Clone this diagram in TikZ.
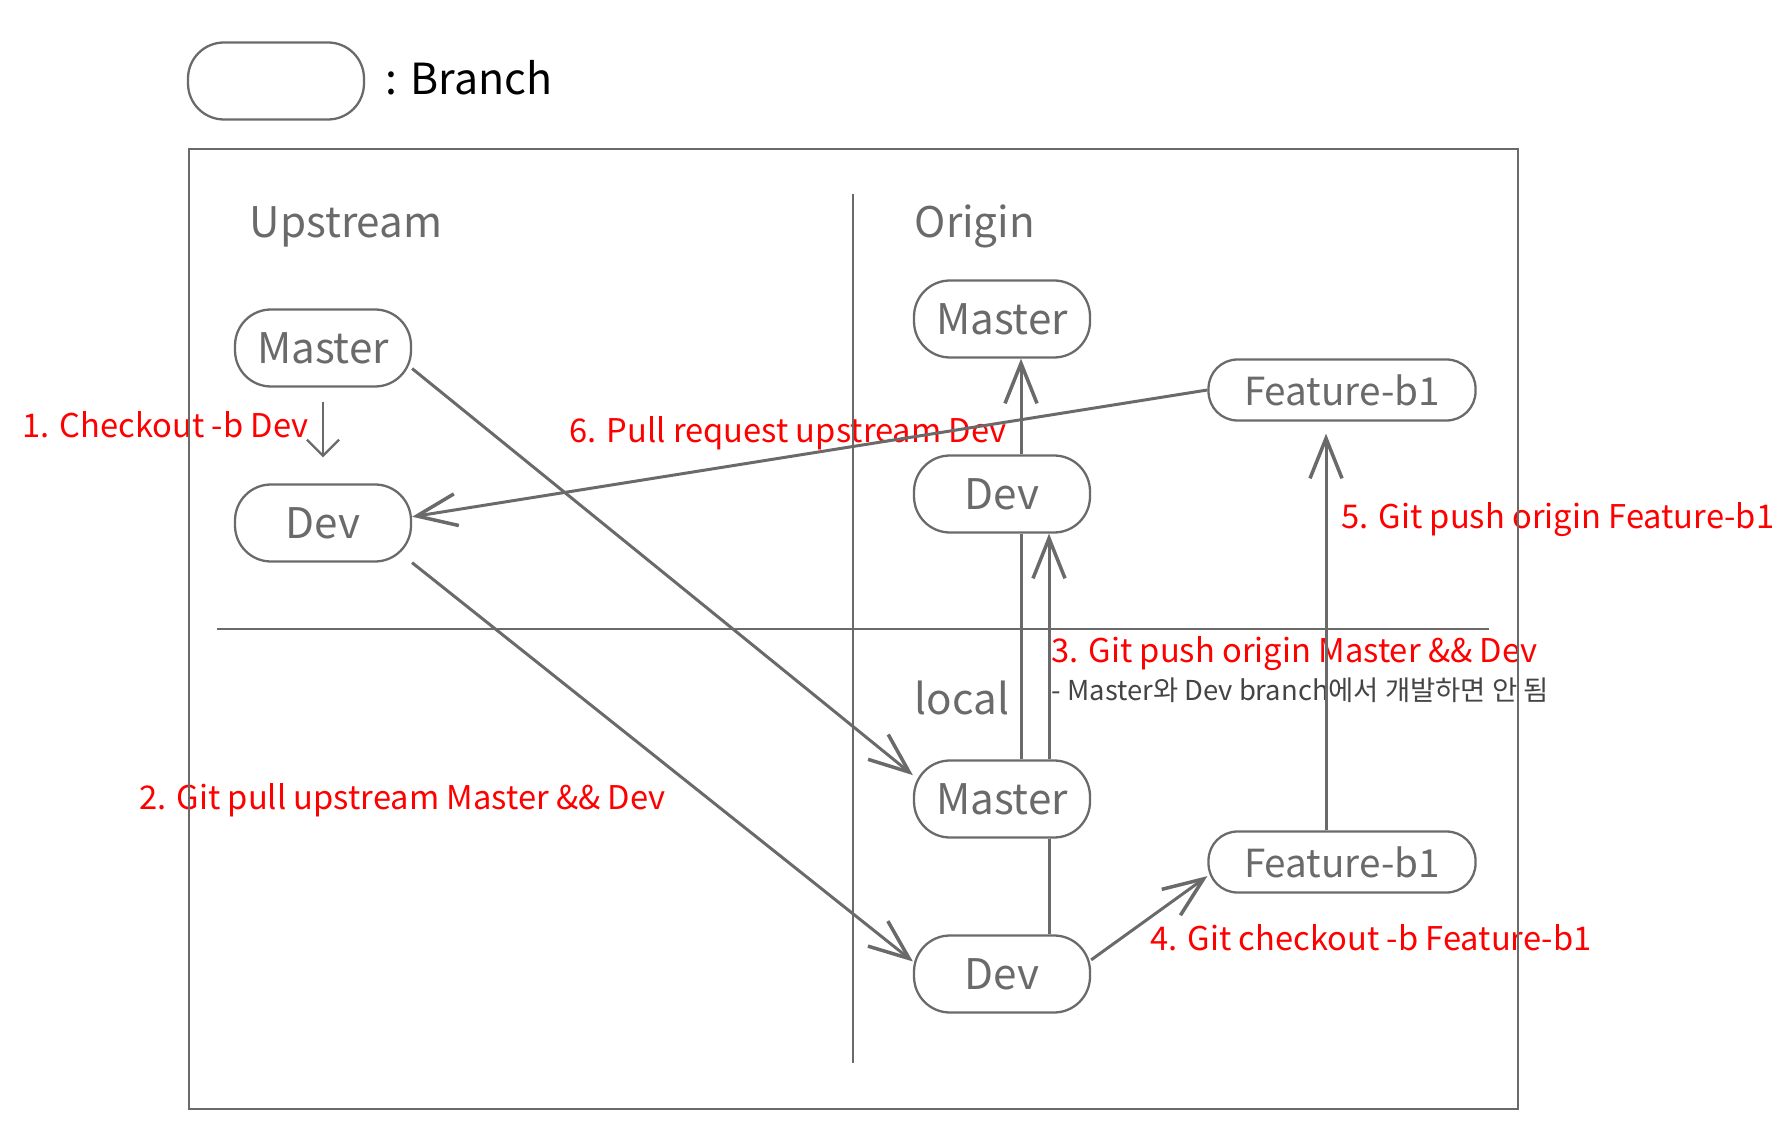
\documentclass[tikz,border=0pt]{standalone}
\usepackage{fontspec}
\setmainfont{Noto Sans CJK KR}
\usetikzlibrary{arrows.meta}
\definecolor{Ink}{HTML}{6A6A6A}
\definecolor{Note}{HTML}{444444}
\definecolor{Cmd}{HTML}{FF0000}

\begin{document}
\begin{tikzpicture}[x=0.1mm,y=-0.1mm,
      branch/.style={draw=Ink,fill=white,line width=0.65pt,rounded corners=3.6mm,
        minimum width=17.6mm,minimum height=7.7mm,inner sep=0pt,text=Ink,
        font=\fontsize{12}{14}\selectfont},
      feat/.style={branch,minimum width=26.7mm,minimum height=6.1mm,
        rounded corners=2.9mm,font=\fontsize{11}{13}\selectfont},
      cmd/.style={anchor=base west,inner sep=0pt,text=Cmd,font=\fontsize{9.3}{11}\selectfont},
      title/.style={anchor=base west,inner sep=0pt,text=Ink,font=\fontsize{12}{14}\selectfont},
      link/.style={line width=0.85pt,draw=Ink},
      arr/.style={link,-{Straight Barb[length=4mm,width=3.2mm,line width=1pt]}}]
      \useasboundingbox (0,0) rectangle (1792,1146);
      % legend
      \node[branch] (key) at (276,81) {};
      \node[anchor=base west,inner sep=0pt,font=\fontsize{12.2}{15}\selectfont] (keytext) at (385,95) {: Branch};
      % steps
      \node[cmd] (c1) at (22,438) {1. Checkout -b Dev};
      \node[cmd] (c2) at (139,809) {2. Git pull upstream Master \&\& Dev};
      \node[cmd] (c3) at (1051,663) {3. Git push origin Master \&\& Dev};
      \node[anchor=base west,inner sep=0pt,text=Note,font=\fontsize{7.8}{9}\selectfont] (c3note) at (1051,701) {- Master와 Dev branch에서 개발하면 안 됨};
      \node[cmd] (c4) at (1150,950) {4. Git checkout -b Feature-b1};
      \node[cmd] (c5) at (1341,529) {5. Git push origin Feature-b1};
      \node[cmd] (c6) at (569,443) {6. Pull request upstream Dev};
      % frame
      \draw[link,line width=0.7pt] (189,149) rectangle (1518,1109);
      \draw[link,line width=0.7pt] (853,194) -- (853,1063);
      \draw[link,line width=0.7pt] (217,629) -- (1489,629);
      \node[title] (up) at (249,238) {Upstream};
      \node[title] (orig) at (914,238) {Origin};
      \node[title] (loc) at (914,714) {local};
      % branches
      \node[branch] (umaster) at (323,348) {Master};
      \node[branch] (udev) at (323,523) {Dev};
      \node[branch] (omaster) at (1002,319) {Master};
      \node[branch] (odev) at (1002,494) {Dev};
      \node[feat] (ofeat) at (1342,390) {Feature-b1};
      \node[branch] (lmaster) at (1002,799) {Master};
      \node[branch] (ldev) at (1002,974) {Dev};
      \node[feat] (lfeat) at (1342,862) {Feature-b1};
      % connectors
      \draw[link,line width=0.65pt,-{Straight Barb[length=1.6mm,width=3.2mm]}] ([yshift=-1.4mm]umaster.south) -- ([yshift=2.6mm]udev.north);
      \draw[arr] (umaster.-13) -- (lmaster.165);
      \draw[arr] (udev.-24) -- (ldev.172);
      \draw[arr] (ofeat.west) -- (udev.4);
      \draw[link] ([xshift=1.9mm]lmaster.north) -- ([xshift=1.9mm]odev.south);
      \draw[arr] ([xshift=1.9mm]odev.north) -- ([xshift=1.9mm]omaster.south);
      \draw[link] ([xshift=4.7mm]ldev.north) -- ([xshift=4.7mm]lmaster.south);
      \draw[arr] ([xshift=4.7mm]lmaster.north) -- ([xshift=4.7mm]odev.south);
      \draw[arr] (ldev.9) -- (lfeat.186);
      \draw[arr,shorten >=1.2mm] ([xshift=-1.6mm]lfeat.north) -- ([xshift=-1.6mm]ofeat.south);
    \end{tikzpicture}
\end{document}
